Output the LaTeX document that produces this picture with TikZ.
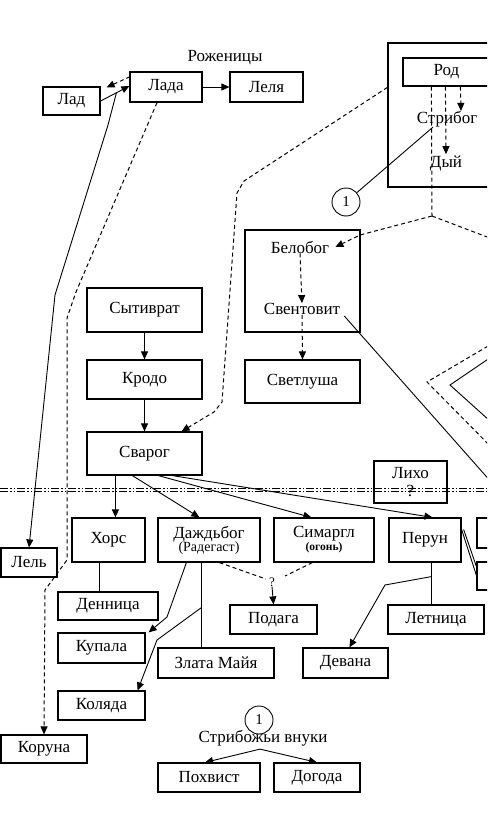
\documentclass[tikz,border=0pt]{standalone}
\usepackage{fontspec}
\setmainfont{Liberation Serif}
\usetikzlibrary{arrows.meta,calc}
\newcommand\mybox[6]{\node[box,minimum width=#4pt,minimum height=#5pt] (#1) at (#2,#3) {#6};}
\begin{document}
\begin{tikzpicture}[x=1pt,y=-1pt,
  box/.style={draw, line width=1.2pt, inner sep=0pt, align=center},
  lbl/.style={inner sep=0pt},
  circ/.style={draw, circle, line width=0.9pt, minimum size=28pt, inner sep=0pt, font=\fontsize{15}{15}\selectfont},
  conn/.style={line width=0.9pt},
  dsh/.style={line width=1pt, dash pattern=on 4pt off 3pt},
  arr/.style={-{Triangle[length=8pt,width=7pt]}},
  tarr/.style={{Triangle[length=8pt,width=7pt]}-},
  sep/.style={line width=1pt, dash pattern=on 8pt off 2pt on 1.5pt off 2pt on 1.5pt off 2pt},
  font=\fontsize{17}{19}\selectfont]
\clip (0,0) rectangle (487,813);
\fill[white] (0,0) rectangle (487,813);

% top left
\node[lbl] (rozh) at (225,58) {Роженицы};
\mybox{lad}{71.5}{101}{57}{28}{Лад}
\mybox{lada}{166}{87}{72}{30}{Лада}
\mybox{lelya}{266.5}{87}{73}{30}{Леля}

% Rod group
\mybox{rodgroup}{449}{115}{122}{144}{}
\mybox{rod}{446.5}{72}{87}{28}{Род}
\node[lbl] (stribog) at (447,119) {Стрибог};
\node[lbl] (dyi) at (446,163) {Дый};
\node[circ] (c1) at (346,202) {1};

% Belobog group
\mybox{belogroup}{302.5}{281}{115}{102}{}
\node[lbl] (belobog) at (300,247) {Белобог};
\node[lbl] (sventovit) at (302,309) {Свентовит};
\mybox{svetlusha}{302.5}{381.5}{115}{43}{Светлуша}

% left column
\mybox{sytivrat}{144.5}{310}{115}{44}{Сытиврат}
\mybox{krodo}{144.5}{379.5}{115}{39}{Кродо}
\mybox{svarog}{144.5}{453.5}{115}{43}{Сварог}
\mybox{likho}{410.5}{482}{73}{42}{Лихо\\[-1pt]?}

% separator
\draw[sep] (0,488.5) -- (487,488.5);
\draw[sep] (0,491.5) -- (487,491.5);

% second row
\mybox{khors}{108.5}{540}{73}{44}{Хорс}
\mybox{dazhdbog}{209}{540}{102}{44}{Даждьбог\\[-6pt]{\fontsize{14}{14}\selectfont (Радегаст)}}
\mybox{simargl}{324}{540}{100}{44}{Симаргл\\[-6pt]{\fontsize{11.5}{12}\selectfont\bfseries (огонь)}}
\mybox{perun}{425}{540}{72}{44}{Перун}
\mybox{rbone}{508.5}{533}{63}{30}{}
\mybox{rbtwo}{508.5}{576}{63}{28}{}
\mybox{lel}{29}{562.5}{56}{29}{Лель}

\mybox{dennitsa}{108}{606}{100}{28}{Денница}
\mybox{kupala}{101.5}{648}{87}{30}{Купала}
\mybox{zlata}{216}{663}{116}{30}{Злата Майя}
\mybox{podaga}{273.5}{619.5}{87}{29}{Подага}
\mybox{devana}{345.5}{663}{85}{30}{Девана}
\mybox{letnitsa}{436}{619.5}{96}{29}{Летница}
\mybox{kolyada}{101.5}{705.5}{87}{29}{Коляда}
\mybox{koruna}{44}{749}{86}{28}{Коруна}

\node[circ] (c2) at (259,720) {1};
\node[lbl] (vnuki) at (263,738) {Стрибожьи внуки};
\mybox{pokhvist}{209}{777.5}{102}{29}{Похвист}
\mybox{dogoda}{317}{777.5}{86}{29}{Догода}
\node[lbl, font=\fontsize{13}{13}\selectfont] (q) at (272,582) {?};

% ---- connectors ----
\draw[conn,arr] (lada) -- (lelya);
\coordinate (ladaL) at ($(lada.west)+(0,-1)$);
\draw[conn,arr] (lad.east) -- (ladaL);
\coordinate (ll) at ($(lad.east)!0.55!(ladaL)$);
\draw[dsh,tarr] ($(lad.north east)+(6,1)$) -- ($(lada.west)+(0,-10)$);
\draw[conn,arr] (ll) -- (108,125) -- (55,295) -- (lel.north);
\draw[dsh,arr] ($(lada.south)+(-9,0)$) -- (76,292) -- (67,318) -- (67,560) -- (45,590) -- (koruna.north);

\draw[dsh,arr] ($(rodgroup.north west)+(0,45)$) -- (244,181) -- (237,193) -- (222,402) -- (214,412) -- ($(svarog.north east)+(-21,0)$);
\coordinate (jn) at (432,216);
\draw[dsh] ($(rod.south west)+(29,0)$) -- (jn);
\draw[dsh,arr] (jn) -- (360,235) -- ($(belobog.east)+(6,0)$);
\draw[dsh] (jn) -- (495,240);
\draw[dsh,arr] ($(rod.south west)+(43,0)$) -- ($(dyi.north)+(0,-1)$);
\draw[dsh,arr] ($(rod.south west)+(58,0)$) -- ($(stribog.north)+(14,0)$);
\draw[conn] ($(stribog.south)+(-14,0)$) -- (c1);

\draw[dsh,arr] (belobog.south) -- (sventovit.north);
\draw[dsh,arr] (sventovit.south) -- (svetlusha.north);
\draw[conn] ($(sventovit.east)+(4,7)$) -- (500,492);
\draw[dsh] (500,339) -- (427,382) -- (500,456);
\draw[conn] (500,351) -- (450,385) -- (500,430);

\draw[conn,arr] (sytivrat) -- (krodo);
\draw[conn,arr] (krodo) -- (svarog);
\draw[conn,arr] ($(svarog.south west)+(29,0)$) -- ($(khors.north west)+(44,0)$);
\draw[conn,arr] ($(svarog.south west)+(46,0)$) -- ($(dazhdbog.north west)+(42,0)$);
\draw[conn,arr] ($(svarog.south west)+(72,0)$) -- ($(simargl.north west)+(38,0)$);
\draw[conn,arr] ($(svarog.south west)+(86,0)$) -- ($(perun.north west)+(44,0)$);

\draw[conn] ($(khors.south west)+(28,0)$) -- ($(dennitsa.north west)+(42,0)$);
\draw[conn,arr] ($(dazhdbog.south west)+(29,0)$) -- (167,617) -- ($(kupala.north east)+(3,0)$);
\draw[conn] ($(dazhdbog.south west)+(44,0)$) -- ($(zlata.north west)+(44,0)$);
\coordinate (zk) at ($(dazhdbog.south west)+(44,45)$);
\draw[conn,arr] (zk) -- (157,640) -- ($(kolyada.north east)+(-8,0)$);
\draw[dsh] ($(dazhdbog.south west)+(62,0)$) -- ($(q.west)+(-3,-3)$);
\draw[dsh] ($(simargl.south west)+(39,0)$) -- ($(q.east)+(10,-6)$);
\draw[conn,arr] (q.south) -- (podaga.north);

\draw[conn] ($(perun.south west)+(43,0)$) -- ($(letnitsa.north west)+(44,0)$);
\coordinate (pd) at ($(perun.south west)+(43,14)$);
\draw[conn,arr] (pd) -- (385,585) -- ($(devana.north west)+(47,0)$);
\draw[conn] ($(perun.north east)+(0,12)$) -- ($(rbtwo.north west)+(0,14)$);
\draw[conn] ($(perun.north east)+(2,12)$) -- ($(rbtwo.north west)+(1,8)$);

\coordinate (vk) at ($(vnuki.south)+(-3,3)$);
\draw[conn,arr] (vk) -- ($(pokhvist.north)+(-4,0)$);
\draw[conn,arr] (vk) -- (dogoda.north);
\end{tikzpicture}
\end{document}
